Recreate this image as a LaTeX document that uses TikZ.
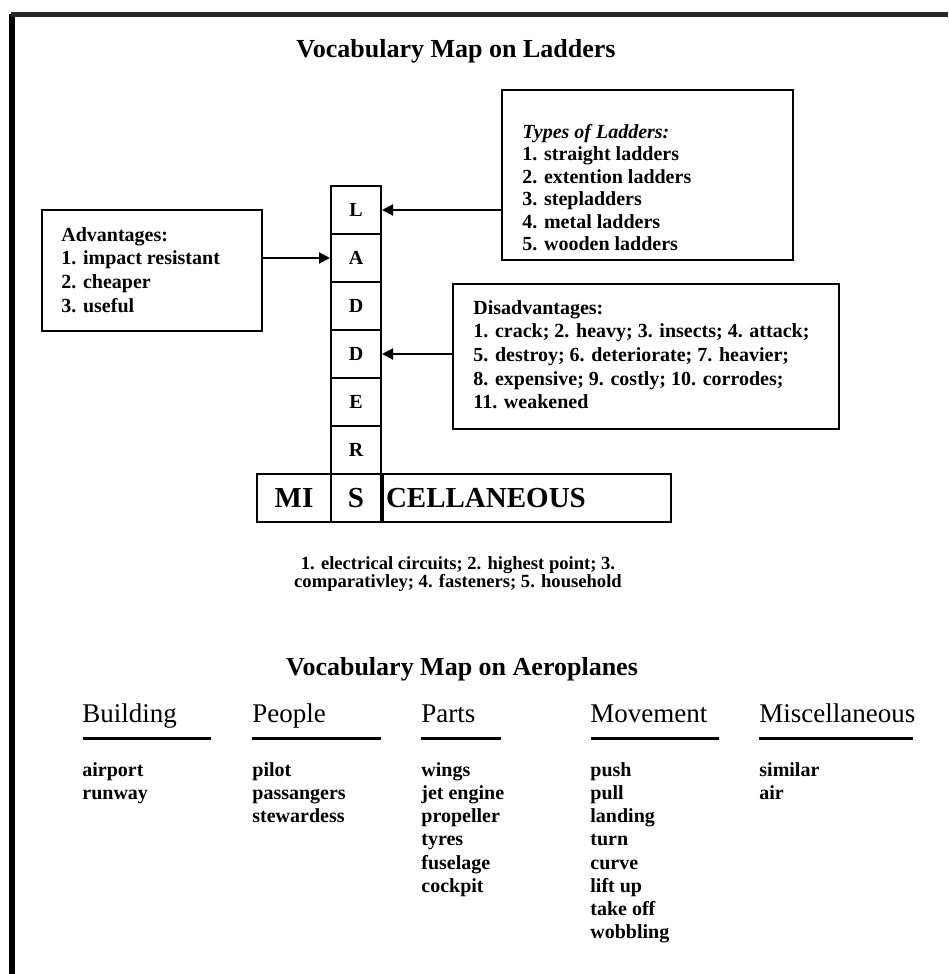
\documentclass[tikz,border=0pt]{standalone}
\usepackage{fontspec}
\setmainfont{Liberation Serif}
\usetikzlibrary{positioning,arrows.meta,fit}
\tikzset {
    style box/.style={
        draw=black,
        line width=1pt,
        rectangle, % Set the shape as a rectangle
        inner sep=0pt,
        anchor=north west,
    },
    style cell/.style={
        draw=black,
        line width=1pt,
        rectangle, % Set the shape as a rectangle
        minimum width=25pt,
        minimum height=24pt,
        inner sep=0pt,
        font=\fontsize{10}{12}\selectfont\bfseries,
    },
    style list/.style={
        anchor=north west,
        inner sep=0pt,
        align=left,
        font=\fontsize{10}{11.6}\selectfont\bfseries,
    },
    style title/.style={
        inner sep=0pt,
        font=\fontsize{13}{15}\selectfont\bfseries,
    },
    style header/.style={
        anchor=base west,
        inner sep=0pt,
        font=\fontsize{13.5}{16}\selectfont,
    },
    style arrow/.style={
        draw=black,
        line width=1pt,
        -{Triangle[length=5.5pt,width=5.5pt]},
    },
}

\begin{document}
\begin{tikzpicture}[x=0.5pt, y=-0.5pt]
        \useasboundingbox (0,0) rectangle (948,974);

        % frame
        \draw[line width=3pt] (12,974) -- (12,14);
        \draw[line width=2.5pt, black!85] (10.5,15) -- (948,15);

        \node[style title] (title1) at (456,51) {Vocabulary Map on Ladders};

        % the ladder
        \node[style cell] (cell1) at (356,210) {L};
        \node[style cell] (cell2) at (356,258) {A};
        \node[style cell] (cell3) at (356,306) {D};
        \node[style cell] (cell4) at (356,354) {D};
        \node[style cell] (cell5) at (356,402) {E};
        \node[style cell] (cell6) at (356,450) {R};
        \node[style cell, font=\fontsize{14.5}{16}\selectfont\bfseries] (cells) at (356,498) {S};
        \node[style cell, minimum width=37pt, font=\fontsize{14.5}{16}\selectfont\bfseries] (mi) at (294,498) {MI};
        \node[style cell, anchor=west, inner xsep=1.5pt, text width=141pt, align=left,
              font=\fontsize{14.5}{16}\selectfont\bfseries] (cellaneous) at (cells.east) {CELLANEOUS};

        \node[style box, minimum width=145.5pt, minimum height=85pt] (types) at (501,89) {};
        \node[style list, font=\fontsize{10}{11.2}\selectfont\bfseries] (typestext) at (522,124) {%
            \textit{Types of Ladders:}\\1. straight ladders\\2. extention ladders\\%
            3. stepladders\\4. metal ladders\\5. wooden ladders};

        \node[style box, minimum width=110pt, minimum height=60.5pt] (adv) at (41,209) {};
        \node[style list, font=\fontsize{10}{11.8}\selectfont\bfseries] (advtext) at (61,227) {%
            Advantages:\\1. impact resistant\\2. cheaper\\3. useful};

        \node[style box, minimum width=193pt, minimum height=72.5pt] (disadv) at (452,283) {};
        \node[style list, font=\fontsize{10}{11.8}\selectfont\bfseries] (disadvtext) at (473,300) {%
            Disadvantages:\\1. crack; 2. heavy; 3. insects; 4. attack;\\%
            5. destroy; 6. deteriorate; 7. heavier;\\8. expensive; 9. costly; 10. corrodes;\\%
            11. weakened};

        \draw[style arrow] (types.west |- cell1.east) -- (cell1.east);
        \draw[style arrow] (adv.east |- cell2.west) -- (cell2.west);
        \draw[style arrow] (disadv.west |- cell4.east) -- (cell4.east);

        \node[align=center, inner sep=0pt, font=\fontsize{9.3}{9.4}\selectfont\bfseries] (misctext) at (458,574) {%
            1. electrical circuits; 2. highest point; 3.\\comparativley; 4. fasteners; 5. household};

        \node[style title] (title2) at (462,669) {Vocabulary Map on Aeroplanes};

        % aeroplanes
        \node[style header] (hbuild) at (82,722) {Building};
        \node[style header] (hpeople) at (252,722) {People};
        \node[style header] (hparts) at (421,722) {Parts};
        \node[style header] (hmove) at (590,722) {Movement};
        \node[style header] (hmisc) at (759,722) {Miscellaneous};

        \draw[line width=1.5pt] (hbuild.base west) ++(1,16) -- ++(128,0);
        \draw[line width=1.5pt] (hpeople.base west) ++(0,16) -- ++(129,0);
        \draw[line width=1.5pt] (hparts.base west) ++(0,16) -- ++(80,0);
        \draw[line width=1.5pt] (hmove.base west) ++(1,16) -- ++(128,0);
        \draw[line width=1.5pt] (hmisc.base west) ++(0,16) -- ++(154,0);

        \node[style list] (wbuild) at (82,762) {airport\\runway};
        \node[style list] (wpeople) at (252,762) {pilot\\passangers\\stewardess};
        \node[style list] (wparts) at (421,762) {wings\\jet engine\\propeller\\tyres\\fuselage\\cockpit};
        \node[style list] (wmove) at (590,762) {push\\pull\\landing\\turn\\curve\\lift up\\take off\\wobbling};
        \node[style list] (wmisc) at (759,762) {similar\\air};
    \end{tikzpicture}
\end{document}
